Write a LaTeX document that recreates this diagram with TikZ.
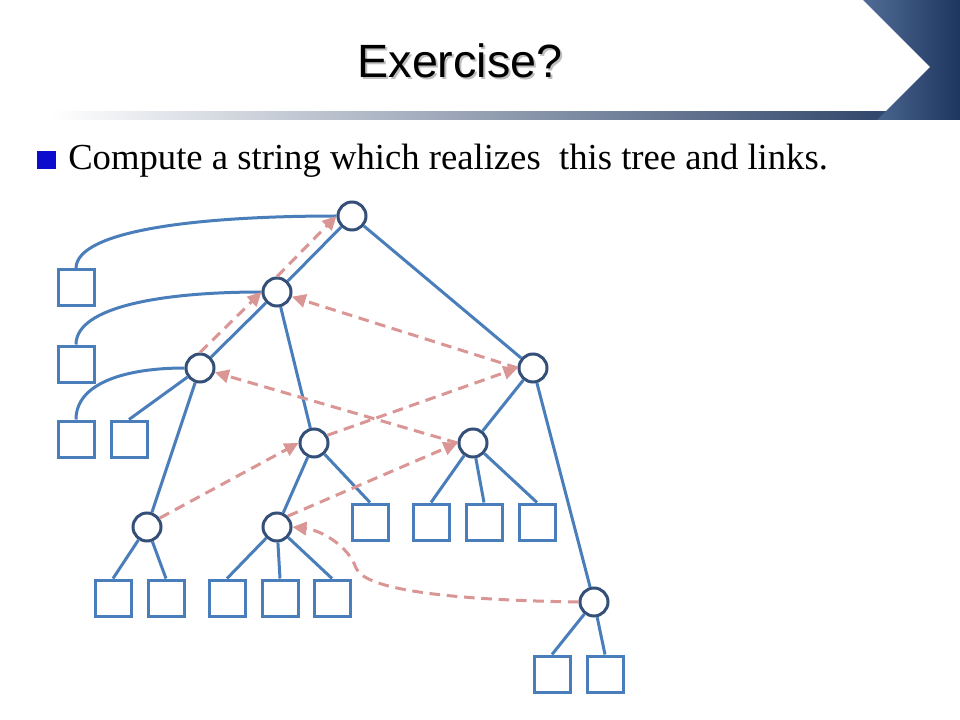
\documentclass[tikz,border=0pt]{standalone}
\usepackage{fontspec}
\setmainfont{Liberation Serif}
\newfontfamily\titlefont{Liberation Sans}
\usetikzlibrary{arrows.meta}

\definecolor{treeblue}{RGB}{74,126,187}
\definecolor{circblue}{RGB}{52,80,120}
\definecolor{linkred}{RGB}{217,150,148}
\definecolor{bandmid}{RGB}{185,206,236}
\definecolor{navy}{RGB}{30,54,94}
\definecolor{navylight}{RGB}{80,108,150}
\definecolor{bulletblue}{RGB}{12,12,204}

\begin{document}
\begin{tikzpicture}[x=0.75pt,y=-0.75pt,
  inner/.style={circle,draw=circblue,line width=2.25pt,fill=white,minimum size=21pt,inner sep=0pt},
  leaf/.style={rectangle,draw=treeblue,line width=2.25pt,fill=white,minimum size=27pt,inner sep=0pt},
  edge/.style={draw=treeblue,line width=2.25pt},
  link/.style={draw=linkred,line width=2.25pt,dash pattern=on 8pt off 5pt,-{Triangle[length=10.5pt,width=10pt]}},
]
\useasboundingbox (0,0) rectangle (960,720);
\fill[white] (0,0) rectangle (960,720);

% header
\shade[left color=white, middle color=bandmid, right color=navy] (50,112) rectangle (960,120);
\shade[left color=navylight, right color=navy] (863,0) -- (960,0) -- (960,120) -- (877,120) -- (930,67) -- cycle;
\node[font=\titlefont\fontsize{35}{42}\selectfont, text=black!25, anchor=base, inner sep=0pt] (titleshadow) at (462,80) {Exercise?};
\node[font=\titlefont\fontsize{35}{42}\selectfont, text=black, anchor=base, inner sep=0pt] (title) at (460,78) {Exercise?};

% bullet
\node[fill=bulletblue, minimum size=14pt, inner sep=0pt] (bullet) at (46.5,160) {};
\node[font=\fontsize{27.5}{33}\selectfont, anchor=base west, inner sep=0pt] (task) at (68,170) {Compute a string which realizes\ \ this tree and links.};

% inner nodes
\node[inner] (A) at (352,216) {};
\node[inner] (B) at (277,292) {};
\node[inner] (C) at (200,368) {};
\node[inner] (D) at (533,368) {};
\node[inner] (E) at (314,443) {};
\node[inner] (F) at (473,443) {};
\node[inner] (G) at (147,527) {};
\node[inner] (H) at (277,527) {};
\node[inner] (I) at (594,602) {};

% leaves
\node[leaf] (S1) at (76,288) {};
\node[leaf] (S2) at (76,364) {};
\node[leaf] (S3) at (76,439) {};
\node[leaf] (S4) at (129,439) {};
\node[leaf] (g1) at (113,598) {};
\node[leaf] (g2) at (166,598) {};
\node[leaf] (h1) at (227,598) {};
\node[leaf] (h2) at (280,598) {};
\node[leaf] (h3) at (332,598) {};
\node[leaf] (e1) at (370,522) {};
\node[leaf] (f1) at (431,522) {};
\node[leaf] (f2) at (484,522) {};
\node[leaf] (f3) at (537,522) {};
\node[leaf] (i1) at (552,674) {};
\node[leaf] (i2) at (605,674) {};

% tree edges
\draw[edge] (A) -- (B);
\draw[edge] (A) -- (D);
\draw[edge] (B) -- (C);
\draw[edge] (B) -- (E);
\draw[edge] (C) -- (G);
\draw[edge] (D) -- (F);
\draw[edge] (D) -- (I);
\draw[edge] (E) -- (H);
\draw[edge] (C) -- (S4.north);
\draw[edge] (E) -- (e1.north);
\draw[edge] (F) -- (f1.north);
\draw[edge] (F) -- (f2.north);
\draw[edge] (F) -- (f3.north);
\draw[edge] (G) -- (g1.north);
\draw[edge] (G) -- (g2.north);
\draw[edge] (H) -- (h1.north);
\draw[edge] (H) -- (h2.north);
\draw[edge] (H) -- (h3.north);
\draw[edge] (I) -- (i1.north);
\draw[edge] (I) -- (i2.north);
\draw[edge] (A.west) .. controls (200,216) and (76,230) .. (S1.north);
\draw[edge] (B.west) .. controls (165,292) and (76,306) .. (S2.north);
\draw[edge] (C.west) .. controls (128,368) and (76,382) .. (S3.north);

% links
\draw[link] (C.north) -- (B.west);
\draw[link] (B.north) -- (A.west);
\draw[link] (D.west) -- (B);
\draw[link] (F.west) -- (C);
\draw[link] (E.30) -- (D.west);
\draw[link] (G.35) -- (E.west);
\draw[link] (H.north east) -- (F.west);
\draw[link] (I.west) .. controls (450,600) and (365,590) .. (356,568) .. controls (348,545) and (320,530) .. (H.east);
\end{tikzpicture}
\end{document}
